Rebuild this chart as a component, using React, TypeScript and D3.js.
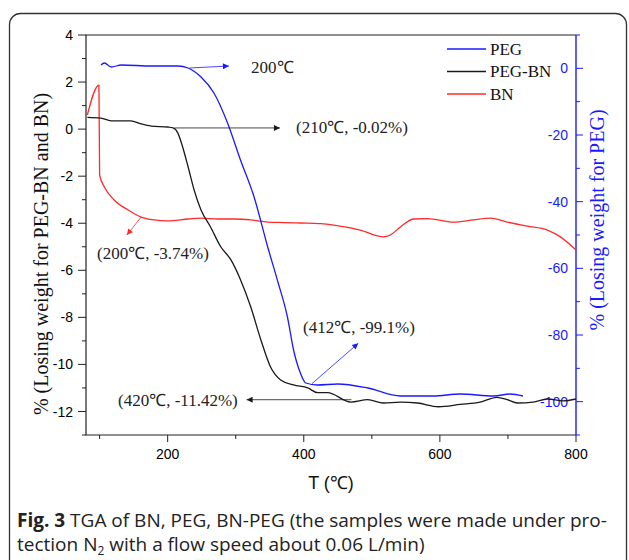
import React, { useEffect, useRef } from 'react';
import * as d3 from 'd3';

// PEG (right axis)
const pegT = [102, 107, 117, 132, 176, 215, 230, 249, 268, 288, 307, 327, 347, 362, 376, 385, 395, 403, 420, 450, 494, 542, 590, 630, 679, 703, 722];
const pegV = [1.0, 1.6, 0.4, 1.0, 0.7, 0.7, 0.1, -2.6, -7.4, -16.4, -27.5, -38.6, -53.6, -64.1, -74.6, -84.5, -91.4, -94.4, -95, -94.7, -95.9, -98.3, -98.3, -97.7, -98.3, -97.7, -98.3];

// PEG-BN (left axis)
const pegbnT = [82, 102, 117, 146, 161, 176, 200, 208, 215, 222, 230, 239, 249, 263, 278, 293, 307, 322, 337, 351, 366, 385, 406, 420, 435, 469, 494, 517, 542, 567, 598, 630, 659, 684, 699, 714, 737, 758, 781, 800];
const pegbnV = [0.5, 0.47, 0.35, 0.35, 0.22, 0.13, 0.09, 0.05, -0.17, -0.76, -1.6, -2.6, -3.44, -4.16, -5.0, -5.56, -6.4, -7.55, -8.96, -10.1, -10.66, -10.87, -11.0, -11.2, -11.2, -11.6, -11.5, -11.64, -11.6, -11.64, -11.8, -11.7, -11.6, -11.4, -11.5, -11.64, -11.6, -11.47, -11.55, -11.47];

// BN (left axis)
const bnT = [82, 99, 100, 107, 121, 142, 161, 180, 200, 230, 249, 274, 298, 322, 347, 371, 395, 425, 444, 483, 517, 527, 542, 561, 582, 620, 649, 674, 699, 728, 758, 777, 800];
const bnV = [0.6, 1.87, -1.95, -2.46, -3.0, -3.44, -3.74, -3.86, -3.9, -3.82, -3.78, -3.82, -3.82, -3.86, -3.95, -3.97, -3.99, -4.02, -4.08, -4.29, -4.58, -4.5, -4.16, -3.82, -3.8, -3.95, -3.86, -3.78, -3.95, -4.12, -4.29, -4.58, -5.14];

const xTicks = [200, 400, 600, 800];
const xMinor = [100, 300, 500, 700];
const leftTicks = [-12, -10, -8, -6, -4, -2, 0, 2, 4];
const leftMinor = [-13, -11, -9, -7, -5, -3, -1, 1, 3];
const rightTicks = [-100, -80, -60, -40, -20, 0];
const rightMinor = [-110, -90, -70, -50, -30, -10, 10];

const legendNames = ['PEG', 'PEG-BN', 'BN'];
const colors = ['#1a1aff', '#1a1a1a', '#ff2a2a'];

const serif = '"Liberation Serif", "Times New Roman", serif';
const sans = '"Liberation Sans", Arial, sans-serif';

const App = () => {
  const ref = useRef<SVGSVGElement>(null);

  useEffect(() => {
    const svg = d3.select(ref.current);
    svg.selectAll('*').remove();

    const left = 86, right = 576, top = 35, bottom = 435;
    const x = d3.scaleLinear().domain([80, 800]).range([left, right]);
    const yL = d3.scaleLinear().domain([-13, 4]).range([bottom, top]);
    const yR = d3.scaleLinear().domain([-110, 10]).range([bottom, top]);

    const defs = svg.append('defs');
    const marker = (id: string, color: string) =>
      defs.append('marker')
        .attr('id', id)
        .attr('viewBox', '0 0 10 10')
        .attr('refX', 10).attr('refY', 5)
        .attr('markerWidth', 9).attr('markerHeight', 6)
        .attr('markerUnits', 'userSpaceOnUse')
        .attr('orient', 'auto')
        .append('path').attr('d', 'M0,0L10,5L0,10Z').attr('fill', color);
    marker('ab', colors[0]);
    marker('ak', colors[1]);
    marker('ar', colors[2]);

    // outer frame
    svg.append('rect')
      .attr('x', 9.5).attr('y', 13.5).attr('width', 617).attr('height', 620)
      .attr('rx', 11).attr('fill', 'none').attr('stroke', '#333').attr('stroke-width', 1.3);

    // plot frame
    svg.append('path')
      .attr('d', `M${right},${top}H${left}V${bottom}H${right}`)
      .attr('fill', 'none').attr('stroke', '#222').attr('stroke-width', 1.2);
    svg.append('line')
      .attr('x1', right).attr('x2', right).attr('y1', top).attr('y2', bottom)
      .attr('stroke', colors[0]).attr('stroke-width', 1.4);

    // x axis
    const gx = svg.append('g');
    xTicks.forEach(t => {
      gx.append('line').attr('x1', x(t)).attr('x2', x(t)).attr('y1', bottom).attr('y2', bottom + 7).attr('stroke', '#222');
      gx.append('text').attr('x', x(t)).attr('y', bottom + 24).attr('text-anchor', 'middle')
        .attr('font-family', sans).attr('font-size', 14).text(t);
    });
    xMinor.forEach(t => {
      gx.append('line').attr('x1', x(t)).attr('x2', x(t)).attr('y1', bottom).attr('y2', bottom + 4).attr('stroke', '#222');
    });

    // left axis
    const gl = svg.append('g');
    leftTicks.forEach(t => {
      gl.append('line').attr('x1', left - 8).attr('x2', left).attr('y1', yL(t)).attr('y2', yL(t)).attr('stroke', '#222');
      gl.append('text').attr('x', left - 13).attr('y', yL(t)).attr('dy', '0.36em').attr('text-anchor', 'end')
        .attr('font-family', sans).attr('font-size', 14).text(t);
    });
    leftMinor.forEach(t => {
      gl.append('line').attr('x1', left - 4).attr('x2', left).attr('y1', yL(t)).attr('y2', yL(t)).attr('stroke', '#222');
    });

    // right axis (labels inside the plot)
    const gr = svg.append('g');
    rightTicks.forEach(t => {
      gr.append('line').attr('x1', right).attr('x2', right + 7).attr('y1', yR(t)).attr('y2', yR(t)).attr('stroke', colors[0]);
      gr.append('text').attr('x', right - 8).attr('y', yR(t)).attr('dy', '0.36em').attr('text-anchor', 'end')
        .attr('font-family', sans).attr('font-size', 14).attr('fill', colors[0]).text(t);
    });
    rightMinor.forEach(t => {
      gr.append('line').attr('x1', right).attr('x2', right + 4).attr('y1', yR(t)).attr('y2', yR(t)).attr('stroke', colors[0]);
    });

    // axis titles
    svg.append('text').attr('transform', `translate(48,254) rotate(-90)`).attr('text-anchor', 'middle')
      .attr('font-family', serif).attr('font-size', 20).attr('fill', '#111')
      .text('% (Losing weight for PEG-BN and BN)');
    svg.append('text').attr('transform', `translate(604,220) rotate(-90)`).attr('text-anchor', 'middle')
      .attr('font-family', serif).attr('font-size', 20).attr('fill', colors[0])
      .text('% (Losing weight for PEG)');
    svg.append('text').attr('x', 331).attr('y', 489).attr('text-anchor', 'middle')
      .attr('font-family', sans).attr('font-size', 18).attr('fill', '#111').text('T (℃)');

    // lines
    const line = (ys: d3.ScaleLinear<number, number>) =>
      d3.line<[number, number]>().x(d => x(d[0])).y(d => ys(d[1])).curve(d3.curveMonotoneX);
    const plot = svg.append('g');
    plot.append('path').datum(bnT.map((t, i) => [t, bnV[i]] as [number, number]))
      .attr('d', line(yL)).attr('fill', 'none').attr('stroke', colors[2]).attr('stroke-width', 1.3);
    plot.append('path').datum(pegbnT.map((t, i) => [t, pegbnV[i]] as [number, number]))
      .attr('d', line(yL)).attr('fill', 'none').attr('stroke', colors[1]).attr('stroke-width', 1.3);
    plot.append('path').datum(pegT.map((t, i) => [t, pegV[i]] as [number, number]))
      .attr('d', line(yR)).attr('fill', 'none').attr('stroke', colors[0]).attr('stroke-width', 1.3);

    // legend
    const lg = svg.append('g');
    legendNames.forEach((n, i) => {
      const ly = 49 + i * 22.5;
      lg.append('line').attr('x1', 447).attr('x2', 486).attr('y1', ly).attr('y2', ly)
        .attr('stroke', colors[i]).attr('stroke-width', 1.3);
      lg.append('text').attr('x', 490).attr('y', ly).attr('dy', '0.33em')
        .attr('font-family', serif).attr('font-size', 17).attr('fill', '#111').text(n);
    });

    // annotations
    const ann = svg.append('g').attr('font-family', serif).attr('font-size', 17).attr('fill', '#222');
    const arrow = (x1: number, y1: number, x2: number, y2: number, c: number, m: string, w = 0.8) =>
      ann.append('line').attr('x1', x1).attr('y1', y1).attr('x2', x2).attr('y2', y2)
        .attr('stroke', colors[c]).attr('stroke-width', w).attr('marker-end', `url(#${m})`);

    arrow(x(232), yR(0.1), x(290), yR(0.7), 0, 'ab');
    ann.append('text').attr('x', 251).attr('y', 67).attr('dy', '0.33em').text('200℃');

    arrow(x(210), yL(0.05), x(365), yL(0.05), 1, 'ak');
    ann.append('text').attr('x', 296).attr('y', 127).attr('dy', '0.33em').text('(210℃, -0.02%)');

    arrow(x(161), yL(-3.74), x(140), yL(-4.5), 2, 'ar');
    ann.append('text').attr('x', 97).attr('y', 253).attr('dy', '0.33em').text('(200℃, -3.74%)');

    arrow(x(412), yR(-94.6), x(480), yR(-82.5), 0, 'ab');
    ann.append('text').attr('x', 303).attr('y', 327).attr('dy', '0.33em').text('(412℃, -99.1%)');

    arrow(x(470), yL(-11.5), x(316), yL(-11.5), 1, 'ak');
    ann.append('text').attr('x', 118).attr('y', 400).attr('dy', '0.33em').text('(420℃, -11.42%)');

    // caption
    const cap = svg.append('g').attr('font-family', '"Open Sans", sans-serif').attr('font-size', 19).attr('fill', '#222');
    const l1 = cap.append('text').attr('x', 17).attr('y', 527);
    l1.append('tspan').attr('font-weight', 'bold').text('Fig. 3');
    l1.append('tspan').text(' TGA of BN, PEG, BN-PEG (the samples were made under pro-');
    const l2 = cap.append('text').attr('x', 17).attr('y', 551);
    l2.append('tspan').text('tection N');
    l2.append('tspan').attr('font-size', 12).attr('dy', 4).text('2');
    l2.append('tspan').attr('dy', -4).text(' with a flow speed about 0.06 L/min)');
  }, []);

  return (
    <div style={{ position: 'absolute', left: 0, top: 0 }}>
      <svg ref={ref} width={629} height={560} style={{ display: 'block', background: '#fff' }} />
    </div>
  );
};

export default App;
